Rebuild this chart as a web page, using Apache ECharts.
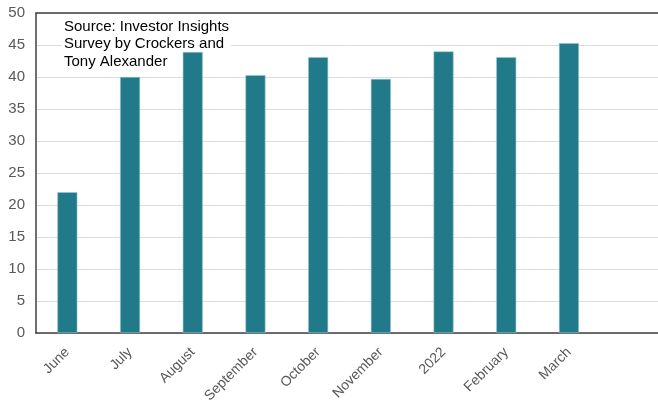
<!DOCTYPE html>
<html>
<head>
<meta charset="utf-8">
<script src="https://cdn.jsdelivr.net/npm/echarts@6/dist/echarts.min.js"></script>
<style>
html,body{margin:0;padding:0;background:#fff;}
#chart{width:658px;height:401px;}
</style>
</head>
<body>
<div id="chart"></div>
<script>
var categories = ['June', 'July', 'August', 'September', 'October', 'November', '2022', 'February', 'March', ''];
var values = [22.0, 40.0, 43.9, 40.3, 43.1, 39.7, 44.0, 43.1, 45.3, null];
var yTicks = {min: 0, max: 50, interval: 5};
var sourceText = 'Source: Investor Insights\nSurvey by Crockers and\nTony Alexander';

var chart = echarts.init(document.getElementById('chart'), null, {renderer: 'canvas'});
var font = 'Liberation Sans, Arial, sans-serif';
chart.setOption({
  animation: false,
  backgroundColor: '#ffffff',
  grid: {left: 36, top: 13, width: 627, height: 320, containLabel: false, outerBoundsMode: 'none'},
  xAxis: [{
    type: 'category',
    data: categories,
    position: 'bottom',
    axisLine: {show: true, lineStyle: {color: '#404040', width: 1.5}},
    axisTick: {show: false},
    axisLabel: {rotate: 45, color: '#595959', fontSize: 14, fontFamily: font, margin: 17, interval: 0},
    splitLine: {show: false}
  }, {
    type: 'category',
    data: categories,
    position: 'top',
    axisLine: {show: true, lineStyle: {color: '#404040', width: 1.5}},
    axisTick: {show: false},
    axisLabel: {show: false},
    splitLine: {show: false}
  }],
  yAxis: {
    type: 'value',
    min: yTicks.min, max: yTicks.max, interval: yTicks.interval,
    axisLine: {show: true, lineStyle: {color: '#404040', width: 1.5}},
    axisTick: {show: false},
    axisLabel: {color: '#595959', fontSize: 15, fontFamily: font, margin: 11},
    splitLine: {show: true, lineStyle: {color: '#dcdcdc', width: 1}}
  },
  series: [{
    type: 'bar',
    data: values,
    barWidth: 20,
    z: 5,
    itemStyle: {color: '#217A8A', borderColor: '#9cc5ce', borderWidth: 0.6}
  }],
  graphic: [{
    type: 'text',
    left: 62,
    top: 17,
    z: 1,
    style: {
      text: sourceText, font: '15px ' + font, fill: '#000000', lineHeight: 17.5,
      backgroundColor: '#ffffff', padding: [1, 2, 1, 2]
    }
  }]
});
</script>
</body>
</html>
